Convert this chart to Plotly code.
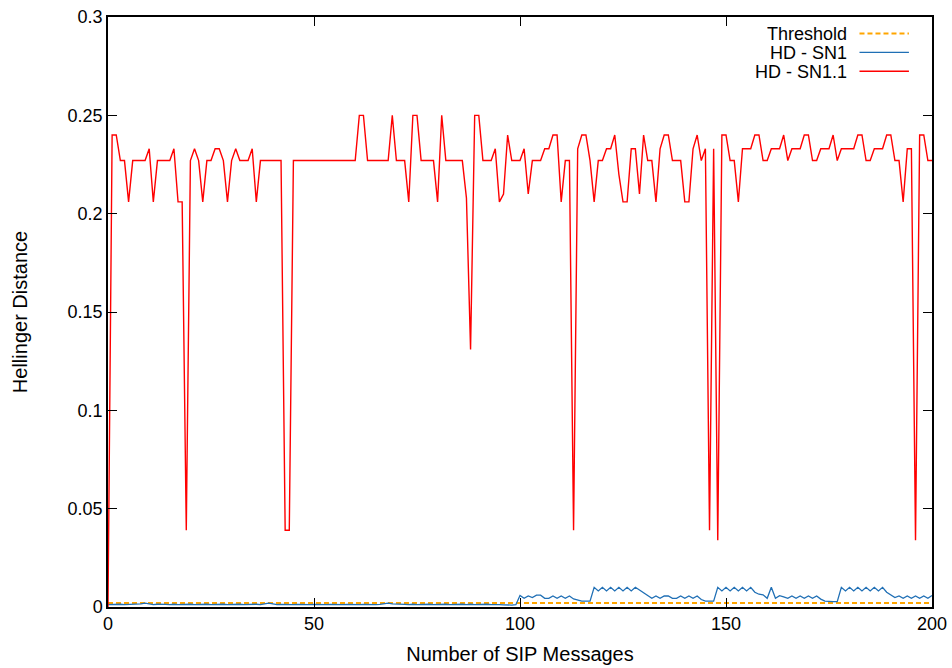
import plotly.graph_objects as go

# Message index axis
msg_index = list(range(0, 201))

# Fixed detection threshold
threshold_level = 0.002

# Hellinger distance for SN1 (messages 0..200)
hd_sn1 = [
    0.0012, 0.0013, 0.0012, 0.0014, 0.0012, 0.0013, 0.0012, 0.0014, 0.0016, 0.0020,
    0.0016, 0.0012, 0.0014, 0.0012, 0.0013, 0.0012, 0.0014, 0.0012, 0.0013, 0.0012,
    0.0014, 0.0012, 0.0013, 0.0012, 0.0014, 0.0012, 0.0013, 0.0012, 0.0014, 0.0012,
    0.0013, 0.0012, 0.0014, 0.0012, 0.0013, 0.0012, 0.0014, 0.0012, 0.0016, 0.0020,
    0.0016, 0.0012, 0.0013, 0.0012, 0.0014, 0.0012, 0.0013, 0.0012, 0.0014, 0.0012,
    0.0013, 0.0012, 0.0014, 0.0012, 0.0013, 0.0012, 0.0014, 0.0012, 0.0013, 0.0012,
    0.0014, 0.0012, 0.0013, 0.0012, 0.0014, 0.0012, 0.0013, 0.0016, 0.0020, 0.0016,
    0.0014, 0.0012, 0.0013, 0.0012, 0.0014, 0.0012, 0.0013, 0.0012, 0.0014, 0.0012,
    0.0013, 0.0012, 0.0014, 0.0012, 0.0013, 0.0012, 0.0014, 0.0012, 0.0014, 0.0012,
    0.0013, 0.0012, 0.0014, 0.0012, 0.0013, 0.0012, 0.0011, 0.0010, 0.0010, 0.0012,
    0.0059, 0.0044, 0.0056, 0.0048, 0.0060, 0.0060, 0.0044, 0.0044, 0.0056, 0.0044,
    0.0056, 0.0044, 0.0056, 0.0041, 0.0035, 0.0030, 0.0030, 0.0030, 0.0100, 0.0082,
    0.0100, 0.0082, 0.0100, 0.0082, 0.0100, 0.0082, 0.0100, 0.0082, 0.0100, 0.0086,
    0.0075, 0.0060, 0.0044, 0.0056, 0.0044, 0.0056, 0.0056, 0.0044, 0.0044, 0.0056,
    0.0044, 0.0056, 0.0044, 0.0056, 0.0038, 0.0030, 0.0030, 0.0030, 0.0100, 0.0082,
    0.0100, 0.0082, 0.0100, 0.0082, 0.0100, 0.0082, 0.0100, 0.0075, 0.0065, 0.0062,
    0.0044, 0.0100, 0.0044, 0.0058, 0.0052, 0.0044, 0.0056, 0.0044, 0.0056, 0.0044,
    0.0056, 0.0044, 0.0056, 0.0040, 0.0030, 0.0027, 0.0027, 0.0027, 0.0100, 0.0082,
    0.0100, 0.0082, 0.0100, 0.0082, 0.0100, 0.0082, 0.0100, 0.0082, 0.0100, 0.0075,
    0.0062, 0.0048, 0.0056, 0.0044, 0.0056, 0.0044, 0.0056, 0.0044, 0.0056, 0.0044,
    0.0058,
]

# Hellinger distance for SN1.1 (messages 0..200)
hd_sn11 = [
    0.000, 0.240, 0.240, 0.227, 0.227, 0.206, 0.227, 0.227, 0.227, 0.227,
    0.233, 0.206, 0.227, 0.227, 0.227, 0.227, 0.233, 0.206, 0.206, 0.039,
    0.227, 0.233, 0.227, 0.206, 0.227, 0.227, 0.233, 0.233, 0.227, 0.206,
    0.227, 0.233, 0.227, 0.227, 0.227, 0.233, 0.206, 0.227, 0.227, 0.227,
    0.227, 0.227, 0.227, 0.039, 0.039, 0.227, 0.227, 0.227, 0.227, 0.227,
    0.227, 0.227, 0.227, 0.227, 0.227, 0.227, 0.227, 0.227, 0.227, 0.227,
    0.227, 0.250, 0.250, 0.227, 0.227, 0.227, 0.227, 0.227, 0.227, 0.250,
    0.227, 0.227, 0.227, 0.206, 0.250, 0.250, 0.227, 0.227, 0.227, 0.227,
    0.206, 0.250, 0.227, 0.227, 0.227, 0.227, 0.227, 0.208, 0.131, 0.250,
    0.250, 0.227, 0.227, 0.227, 0.233, 0.206, 0.210, 0.240, 0.227, 0.227,
    0.227, 0.233, 0.210, 0.227, 0.227, 0.227, 0.233, 0.233, 0.240, 0.240,
    0.206, 0.227, 0.227, 0.039, 0.233, 0.240, 0.240, 0.227, 0.206, 0.227,
    0.227, 0.233, 0.233, 0.240, 0.220, 0.206, 0.206, 0.233, 0.233, 0.210,
    0.240, 0.227, 0.227, 0.206, 0.233, 0.240, 0.240, 0.227, 0.227, 0.227,
    0.206, 0.206, 0.233, 0.240, 0.227, 0.233, 0.039, 0.233, 0.034, 0.240,
    0.240, 0.227, 0.227, 0.206, 0.233, 0.233, 0.233, 0.240, 0.240, 0.227,
    0.227, 0.233, 0.233, 0.233, 0.240, 0.227, 0.233, 0.233, 0.233, 0.240,
    0.240, 0.227, 0.227, 0.233, 0.233, 0.233, 0.240, 0.227, 0.233, 0.233,
    0.233, 0.233, 0.240, 0.240, 0.227, 0.227, 0.233, 0.233, 0.233, 0.240,
    0.240, 0.227, 0.227, 0.206, 0.233, 0.233, 0.034, 0.240, 0.240, 0.227,
    0.227,
]

series_names = ["Threshold", "HD - SN1", "HD - SN1.1"]
series_colors = ["#FFA500", "#1f6fb5", "#ff0000"]

x_ticks = [0, 50, 100, 150, 200]
y_ticks = [0, 0.05, 0.1, 0.15, 0.2, 0.25, 0.3]
y_tick_text = ["0", "0.05", "0.1", "0.15", "0.2", "0.25", "0.3"]

FONT = "Liberation Sans, Arial, Helvetica, sans-serif"
TICK_SIZE = 18
TITLE_SIZE = 20
KEY_SIZE = 18

fig = go.Figure()

fig.add_trace(go.Scatter(
    x=msg_index, y=[threshold_level] * len(msg_index), mode="lines",
    name=series_names[0],
    line=dict(color=series_colors[0], width=2, dash="5px,3px"),
))
fig.add_trace(go.Scatter(
    x=msg_index, y=hd_sn1, mode="lines", name=series_names[1],
    line=dict(color=series_colors[1], width=1.3),
))
fig.add_trace(go.Scatter(
    x=msg_index, y=hd_sn11, mode="lines", name=series_names[2],
    line=dict(color=series_colors[2], width=1.4),
))

axis_style = dict(
    showgrid=False, zeroline=False, showline=True, linecolor="black",
    linewidth=1.5, mirror="allticks", ticks="inside", ticklen=9,
    tickcolor="black", tickwidth=1, automargin=False,
    ticklabeloverflow="allow",
    tickfont=dict(family=FONT, size=TICK_SIZE, color="black"),
)

fig.update_layout(
    width=952, height=668,
    margin=dict(l=108, r=20, t=17, b=61),
    paper_bgcolor="white", plot_bgcolor="white",
    showlegend=False,
    font=dict(family=FONT, size=TICK_SIZE, color="black"),
    xaxis=dict(range=[0, 200], tickvals=x_ticks,
               title=dict(text="Number of SIP Messages",
                          font=dict(family=FONT, size=TITLE_SIZE), standoff=14),
               **axis_style),
    yaxis=dict(range=[0, 0.3], tickvals=y_ticks, ticktext=y_tick_text,
               title=dict(text="Hellinger Distance",
                          font=dict(family=FONT, size=TITLE_SIZE), standoff=35),
               **axis_style),
)

# Key in the upper-right corner: label on the left, line sample on the right
key_rows_y = [0.972, 0.940, 0.908]
key_text_x = 0.898
key_line_x0, key_line_x1 = 0.912, 0.972
key_dash = ["5px,3px", "solid", "solid"]
key_width = [2, 1.3, 1.4]
for name, color, ky, dash, w in zip(series_names, series_colors, key_rows_y,
                                     key_dash, key_width):
    fig.add_annotation(
        xref="paper", yref="paper", x=key_text_x, y=ky, text=name,
        showarrow=False, xanchor="right", yanchor="middle",
        height=17, borderpad=0, valign="middle",
        font=dict(family=FONT, size=KEY_SIZE, color="black"),
    )
    fig.add_shape(
        type="line", xref="paper", yref="paper",
        x0=key_line_x0, x1=key_line_x1, y0=ky, y1=ky,
        line=dict(color=color, width=w, dash=dash),
    )

fig.write_html("out.html")
